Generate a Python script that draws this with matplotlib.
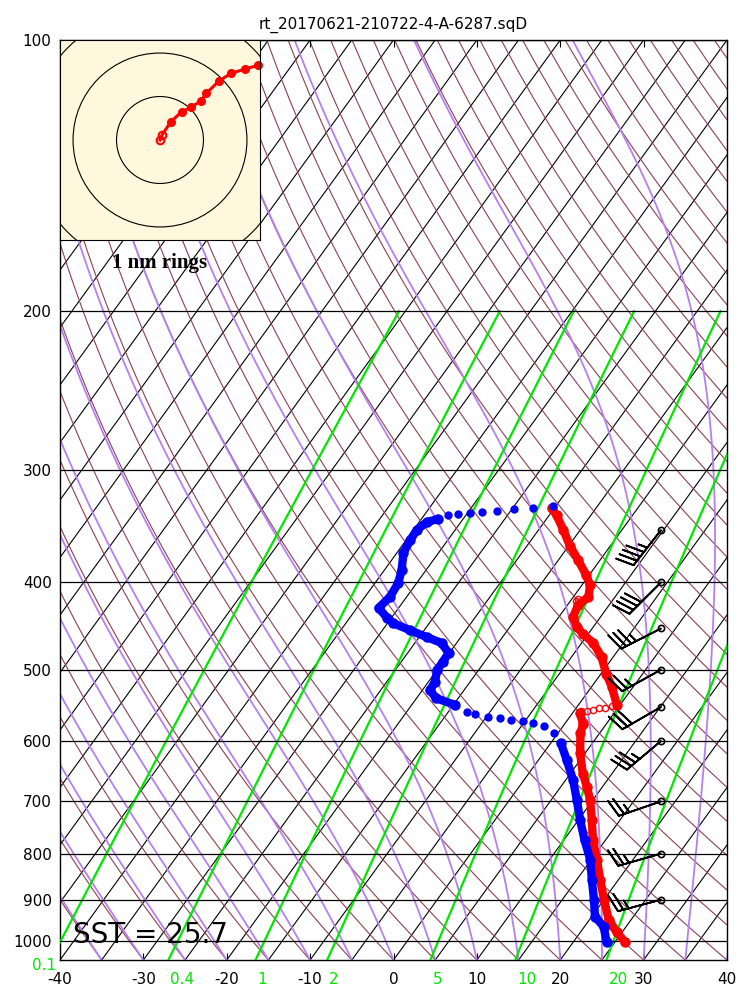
import numpy as np
import matplotlib
matplotlib.use('Agg')
import matplotlib.pyplot as plt
from matplotlib.ticker import FixedLocator, FixedFormatter, NullLocator

plt.rcParams['axes.unicode_minus'] = False

title = 'rt_20170621-210722-4-A-6287.sqD'
sst_label = 'SST = 25.7'

# temperature, surface up to the jump near 557 hPa (hPa, degC)
temp_low_p = [1003, 977, 947, 900, 855, 813, 773, 734, 698, 674, 652, 619, 588, 574, 559]
temp_low = [26.2, 24.3, 22.3, 20.0, 17.8, 15.7, 13.5, 11.6, 9.7, 8.1, 6.5, 4.4, 2.7, 2.2, 0.9]
# temperature above the jump
temp_up_p = [547, 522, 505, 484, 467, 456, 448, 437, 424, 415, 403, 393, 378, 364, 350, 337, 331]
temp_up = [4.6, 2.4, 0.6, -1.4, -3.6, -5.7, -7.0, -8.3, -8.7, -8.2, -9.0, -10.3, -12.6, -14.9, -17.0, -19.1, -20.3]
# flagged temperature points (open circles)
temp_flag_p = [420, 417, 556, 555, 554, 552, 551, 549]
temp_flag = [-9.3, -9.3, 0.9, 1.5, 2.2, 2.8, 3.4, 4.1]

# dewpoint
dewp_low_p = [1003, 964, 940, 900, 855, 813, 773, 734, 698, 663, 630, 603]
dewp_low = [24.0, 22.3, 20.4, 18.8, 16.8, 14.9, 12.5, 10.2, 8.1, 5.9, 3.4, 1.2]
dewp_fast1_p = [588, 578, 573, 570, 568, 566, 564, 560, 557]
dewp_fast1 = [-0.5, -2.3, -3.9, -5.2, -6.8, -8.2, -9.8, -11.6, -12.8]
dewp_mid_p = [547, 538, 527, 516, 500, 490, 479, 467, 460, 452, 444, 438, 427, 415, 401,
              388, 371, 359, 350, 343, 340]
dewp_mid = [-14.8, -17.6, -19.1, -19.2, -20.0, -20.0, -20.1, -21.8, -24.1, -26.7, -29.3,
            -30.5, -32.4, -32.0, -32.2, -32.9, -34.2, -34.5, -34.6, -34.1, -33.0]
dewp_fast2_p = [337, 336, 335, 334, 333, 332, 331, 329]
dewp_fast2 = [-32.1, -31.0, -29.7, -28.3, -26.6, -24.7, -22.5, -20.4]

# winds (hPa, direction deg, speed kt)
wind_p = [350, 400, 450, 500, 550, 600, 700, 800, 900]
wind_dir = [218, 225, 243, 241, 240, 230, 251, 254, 255]
wind_spd = [45, 40, 35, 25, 30, 35, 25, 25, 25]

# sonde drift, nm from launch point
track_x = [0.00, 0.05, 0.25, 0.50, 0.71, 0.94, 1.06, 1.36, 1.63, 1.95, 2.26]
track_y = [0.00, 0.12, 0.42, 0.65, 0.75, 0.90, 1.07, 1.36, 1.53, 1.63, 1.72]
rings_nm = [1, 2, 3]

# background lines
isotherms = np.arange(-120, 41, 5)
dry_t0 = np.arange(-40, 191, 5)
moist_t0 = np.arange(-40, 41, 5)
mix_ratios = [0.1, 0.4, 1, 2, 5, 10, 20]
mix_labels = ['0.1', '0.4', '1', '2', '5', '10', '20']
p_ticks = [100, 200, 300, 400, 500, 600, 700, 800, 900, 1000]
t_ticks = [-40, -30, -20, -10, 0, 10, 20, 30, 40]

P_BOT, P_TOP = 1050., 100.
XMIN, XMAX = -40., 40.
RD, CP, LV, EPS = 287.04, 1005.7, 2.501e6, 0.622

RED = '#ff0000'
BLUE = '#0000ff'
GREEN = '#00e600'
PURPLE = '#b67ff0'
BROWN = '#8b4050'


def skew_x(t, p):
    # 45 deg skew in axes space, referenced to the bottom of the chart
    return t + (XMAX - XMIN) * np.log(P_BOT / p) / np.log(P_BOT / P_TOP)


def dewpoint_from_w(w, p):
    e = w / 1000. * p / (EPS + w / 1000.)
    a = np.log(e / 6.112)
    return 243.5 * a / (17.67 - a)


def moist_lapse(tk, p):
    tc = tk - 273.15
    es = 6.112 * np.exp(17.67 * tc / (tc + 243.5))
    rs = EPS * es / (p - es)
    return (RD * tk + LV * rs) / (p * (CP + LV**2 * rs * EPS / (RD * tk**2)))


fig = plt.figure(figsize=(7.5, 10), dpi=100)
ax = fig.add_axes([0.08, 0.04, 667 / 750, 0.92])

# isotherms
pp = np.array([P_BOT, P_TOP])
ax.plot(skew_x(isotherms[None, :], pp[:, None]), pp, color='k', lw=0.8, zorder=1)

# dry adiabats
p_dry = np.linspace(P_BOT, P_TOP, 120)
t_dry = (dry_t0[None, :] + 273.15) * (p_dry[:, None] / P_BOT) ** (RD / CP) - 273.15
ax.plot(skew_x(t_dry, p_dry[:, None]), p_dry, color=BROWN, lw=0.8, zorder=1)

# moist adiabats
p_moist = np.linspace(P_BOT, P_TOP, 400)
tk = moist_t0.astype(float) + 273.15
t_moist = [tk.copy()]
for i in range(1, len(p_moist)):
    dp = p_moist[i] - p_moist[i - 1]
    k1 = moist_lapse(tk, p_moist[i - 1])
    k2 = moist_lapse(tk + 0.5 * dp * k1, p_moist[i - 1] + 0.5 * dp)
    tk = tk + dp * k2
    t_moist.append(tk.copy())
t_moist = np.array(t_moist) - 273.15
ax.plot(skew_x(t_moist, p_moist[:, None]), p_moist, color=PURPLE, lw=1.3, zorder=2)

# mixing ratio lines
p_mix = np.linspace(P_BOT, 200, 60)
for w, lab in zip(mix_ratios, mix_labels):
    td = dewpoint_from_w(w, p_mix)
    ax.plot(skew_x(td, p_mix), p_mix, color=GREEN, lw=1.6, zorder=3)
    x0 = td[0]
    if x0 >= XMIN:
        ax.annotate(lab, (x0, P_BOT), xytext=(1.5, -9), textcoords='offset points',
                    ha='left', va='top', color=GREEN, fontsize=11, annotation_clip=False)
    else:
        # line starts left of the frame: label sits just left of the corner
        ax.annotate(lab, (XMIN, P_BOT), xytext=(-3, 1.5), textcoords='offset points',
                    ha='right', va='top', color=GREEN, fontsize=11, annotation_clip=False)

# pressure grid
for p in p_ticks:
    ax.axhline(p, color='k', lw=0.9, zorder=3)

# temperature and dewpoint
for pr, t in [(temp_low_p, temp_low), (temp_up_p, temp_up)]:
    pr = np.array(pr, float)
    ax.plot(skew_x(np.array(t), pr), pr, '-o', color=RED, lw=6, ms=6.5,
            solid_capstyle='round', zorder=5)
pr = np.array(temp_flag_p, float)
ax.plot(skew_x(np.array(temp_flag), pr), pr, 'o', mfc='none', mec=RED, mew=1.0, ms=4.5, zorder=5)

for pr, t in [(dewp_low_p, dewp_low), (dewp_mid_p, dewp_mid)]:
    pr = np.array(pr, float)
    ax.plot(skew_x(np.array(t), pr), pr, '-o', color=BLUE, lw=6, ms=6.5,
            solid_capstyle='round', zorder=5)
for pr, t in [(dewp_fast1_p, dewp_fast1), (dewp_fast2_p, dewp_fast2)]:
    pr = np.array(pr, float)
    ax.plot(skew_x(np.array(t), pr), pr, 'o', color=BLUE, ms=5, zorder=5)

# wind barbs along the right side
wd = np.deg2rad(wind_dir)
u = -np.array(wind_spd) * np.sin(wd)
v = -np.array(wind_spd) * np.cos(wd)
bx = np.full(len(wind_p), 0.901)
ax.barbs(bx, wind_p, u, v, length=8, linewidth=1.3, color='k',
         transform=ax.get_yaxis_transform(), zorder=6)
ax.plot(bx, wind_p, 'o', mfc='none', mec='k', mew=1.2, ms=4.5,
        transform=ax.get_yaxis_transform(), zorder=6)

ax.set_yscale('log')
ax.set_ylim(P_BOT, P_TOP)
ax.set_xlim(XMIN, XMAX)
ax.yaxis.set_major_locator(FixedLocator(p_ticks))
ax.yaxis.set_major_formatter(FixedFormatter([str(p) for p in p_ticks]))
ax.yaxis.set_minor_locator(NullLocator())
ax.set_xticks(t_ticks)
ax.tick_params(axis='x', direction='in', top=True, length=5, pad=9, labelsize=11)
ax.tick_params(axis='y', length=0, pad=6, labelsize=11)
for s in ax.spines.values():
    s.set_linewidth(1.0)
ax.set_title(title, fontsize=11, pad=8)

ax.text(0.019, 0.0185, sst_label, transform=ax.transAxes, fontsize=20,
        va='baseline', ha='left', zorder=7)

# drift inset
axi = fig.add_axes([0.08, 0.76, 200 / 750, 0.2])
axi.set_facecolor('cornsilk')
for r in rings_nm:
    axi.add_patch(plt.Circle((0, 0), r, fill=False, color='k', lw=0.8))
axi.plot(track_x, track_y, '-', color=RED, lw=2.2, clip_on=False)
axi.plot(track_x[2:], track_y[2:], 'o', color=RED, ms=5.5, clip_on=False)
axi.plot(track_x[:2], track_y[:2], 'o', mfc='none', mec=RED, mew=1.5, ms=5.5)
axi.set_xlim(-2.3, 2.3)
axi.set_ylim(-2.3, 2.3)
axi.set_xticks([])
axi.set_yticks([])
fig.text(160 / 750, 1 - 268 / 1000, '1 nm rings', ha='center', va='baseline',
         fontsize=15, fontweight='bold', family='Liberation Serif')

fig.savefig('out.png', dpi=100)
